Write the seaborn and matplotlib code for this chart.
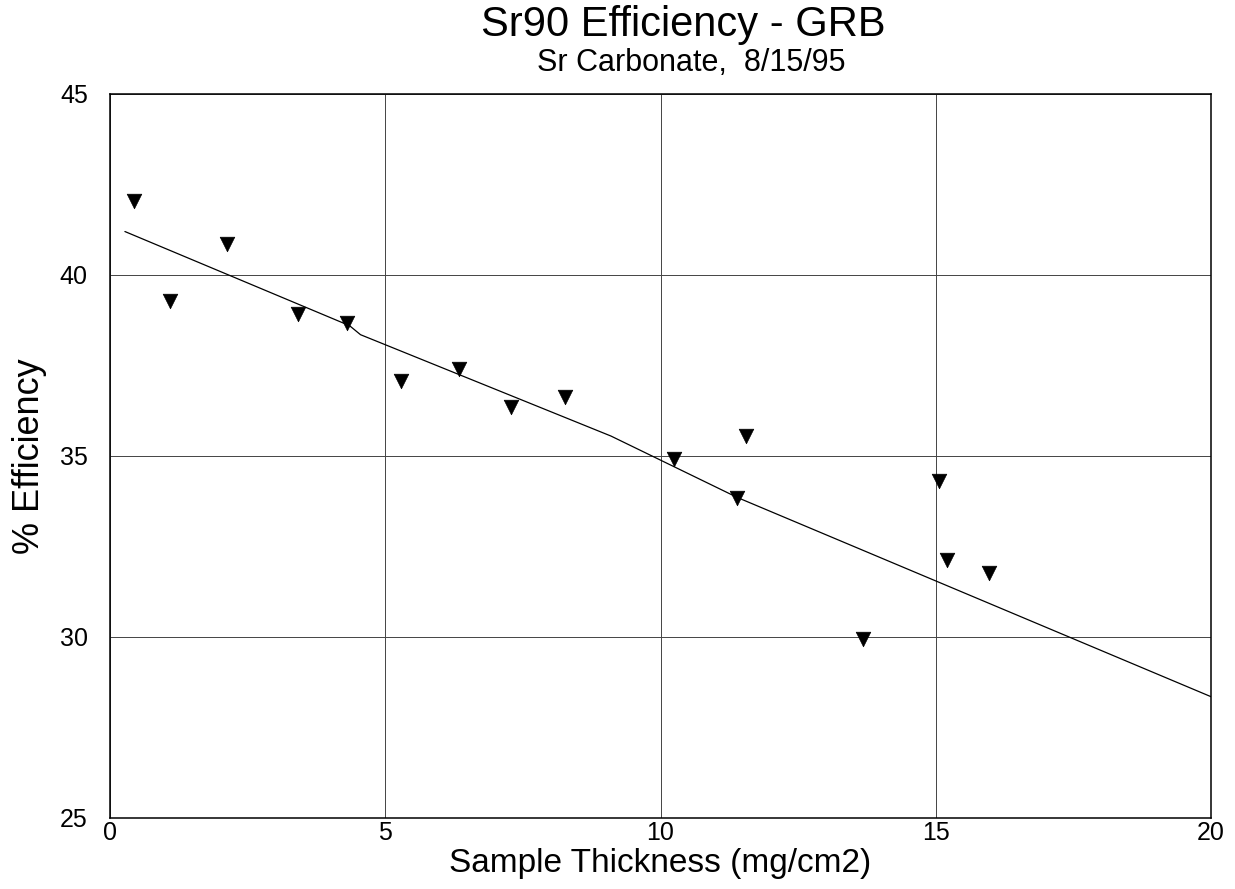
import matplotlib
matplotlib.use("Agg")
import matplotlib.pyplot as plt
import seaborn as sns
import pandas as pd

# Measured counting efficiency vs. sample thickness
thickness = [0.44, 1.09, 2.13, 3.42, 4.31, 5.29, 6.33, 7.29, 8.27,
             10.25, 11.38, 11.56, 13.68, 15.05, 15.20, 15.96]
efficiency = [42.05, 39.29, 40.86, 38.93, 38.66, 37.08, 37.39, 36.34, 36.64,
              34.93, 33.84, 35.55, 29.95, 34.32, 32.12, 31.76]

# Fitted efficiency curve
fit_x = [0.27, 4.35, 4.55, 9.10, 11.40, 20.0]
fit_y = [41.20, 38.60, 38.35, 35.55, 33.85, 28.35]

x_ticks = [0, 5, 10, 15, 20]
y_ticks = [25, 30, 35, 40, 45]

sns.set_theme(style="white")
plt.rcParams["font.family"] = ["Liberation Sans", "DejaVu Sans"]
plt.rcParams["text.color"] = "black"
plt.rcParams["axes.labelcolor"] = "black"

fig = plt.figure(figsize=(12.35, 8.89), dpi=100)
ax = fig.add_axes([0.0891, 0.0799, 0.8915, 0.8144])

pts = pd.DataFrame({"thickness": thickness, "efficiency": efficiency})
fit = pd.DataFrame({"thickness": fit_x, "efficiency": fit_y})

sns.lineplot(data=fit, x="thickness", y="efficiency", ax=ax, color="black",
             linewidth=0.9, sort=False, estimator=None, zorder=3)
sns.scatterplot(data=pts, x="thickness", y="efficiency", ax=ax, marker="v",
                s=110, color="black", edgecolor="black", linewidth=0.5, zorder=4)

ax.set_xlim(0, 20)
ax.set_ylim(25, 45)
ax.set_xticks(x_ticks)
ax.set_yticks(y_ticks)
ax.set_xticklabels([str(t) for t in x_ticks])
ax.set_yticklabels([str(t) for t in y_ticks])
ax.grid(True, color="#444444", linewidth=0.7)
ax.set_axisbelow(True)
for s in ax.spines.values():
    s.set_color("black")
    s.set_linewidth(1.1)
ax.tick_params(axis="both", length=0, labelsize=18, colors="black")
ax.tick_params(axis="y", pad=16)
ax.tick_params(axis="x", pad=2)

ax.set_xlabel("Sample Thickness (mg/cm2)", fontsize=24)
ax.xaxis.set_label_coords(0.5, -0.041)
ax.set_ylabel("% Efficiency", fontsize=26)
ax.yaxis.set_label_coords(-0.057, 0.5)

fig.text(0.553, 0.972, "Sr90 Efficiency - GRB", ha="center", va="center",
         fontsize=30)
fig.text(0.560, 0.929, "Sr Carbonate,  8/15/95", ha="center", va="center",
         fontsize=22)

fig.savefig("out.png", dpi=100, facecolor="white")
